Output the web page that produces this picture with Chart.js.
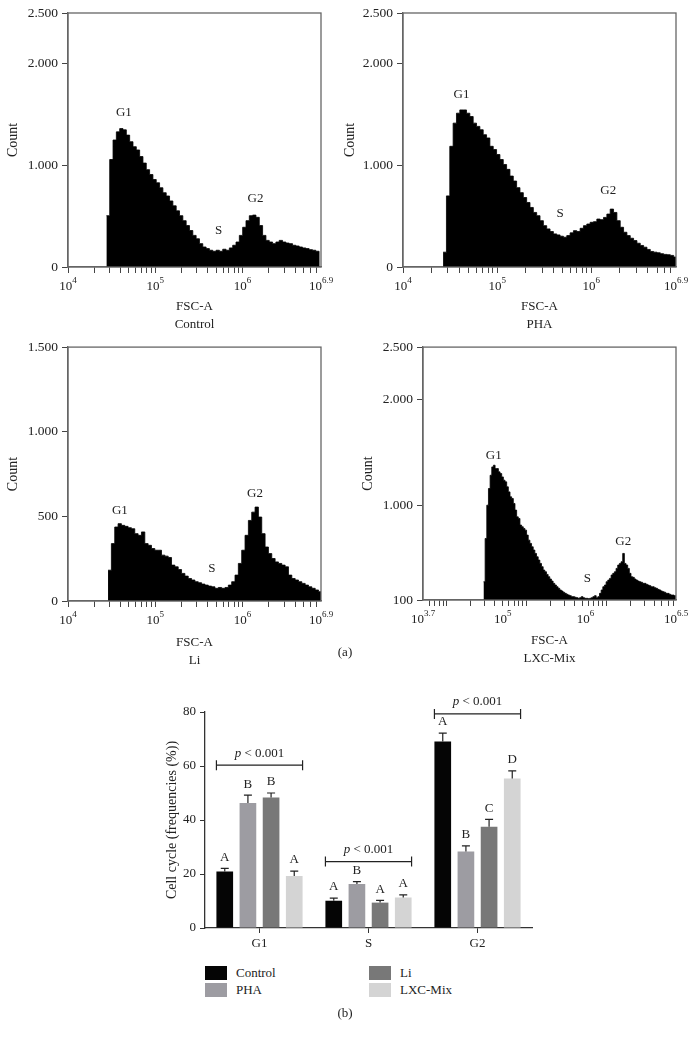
<!DOCTYPE html>
<html lang="en">
<head>
<meta charset="UTF-8" />
<title>Cell cycle - FSC-A histograms and frequencies</title>
<script src="https://cdn.jsdelivr.net/npm/chart.js"></script>
<style>
  body {
    margin: 0;
    background: #fff;
    width: 696px;
    height: 1041px;
    position: relative;
    overflow: hidden;
    font-family: "Liberation Serif", "Times New Roman", serif;
    color: #222;
  }
  canvas { position: absolute; }
  .tag {
    position: absolute;
    font-size: 13px;
    transform: translate(-50%, -50%);
    white-space: nowrap;
  }
  .key {
    position: absolute;
    font-size: 13px;
    line-height: 14px;
    white-space: nowrap;
  }
  .key span {
    display: inline-block;
    width: 22px;
    height: 14px;
    vertical-align: top;
    margin-right: 9px;
  }
</style>
</head>
<body>
<canvas id="hControl" width="340" height="340" style="left:0;top:0"></canvas>
<canvas id="hPha" width="361" height="340" style="left:335px;top:0"></canvas>
<canvas id="hLi" width="340" height="340" style="left:0;top:335px"></canvas>
<canvas id="hLxc" width="351" height="340" style="left:345px;top:335px"></canvas>
<div class="tag" style="left:345px;top:652px">(a)</div>
<canvas id="bars" width="420" height="272" style="left:140px;top:688px"></canvas>
<div id="legend"></div>
<div class="tag" style="left:345px;top:1013px">(b)</div>

<script>
  var SERIF = '"Liberation Serif", "Times New Roman", serif';

  // ---- histogram counts (one value per bin) ----
  var controlCounts = [505, 1058, 1250, 1330, 1362, 1350, 1298, 1233, 1184, 1152,
    1087, 1023, 958, 910, 861, 829, 780, 731, 699, 650,
    602, 553, 505, 456, 408, 359, 311, 278, 230, 197,
    181, 165, 155, 165, 155, 175, 165, 188, 214, 246,
    311, 391, 456, 505, 511, 489, 408, 311, 262, 246,
    230, 246, 262, 246, 236, 230, 214, 207, 197, 188,
    181, 171, 165, 155];
  var phaCounts = [146, 700, 1188, 1416, 1514, 1546, 1546, 1514, 1481, 1416,
    1384, 1351, 1302, 1270, 1188, 1156, 1107, 1058, 1009, 961,
    895, 846, 781, 732, 684, 635, 586, 537, 505, 456,
    407, 375, 349, 326, 316, 303, 293, 309, 336, 358,
    349, 381, 407, 423, 440, 446, 472, 466, 488, 521,
    570, 537, 456, 391, 342, 309, 283, 260, 234, 212,
    195, 173, 153, 146, 140, 131, 124, 121, 114, 98];
  var liCounts = [182, 339, 437, 457, 447, 441, 433, 427, 398, 388,
    408, 339, 329, 310, 300, 300, 271, 265, 257, 212,
    202, 186, 163, 147, 133, 124, 114, 108, 100, 94,
    88, 84, 75, 80, 75, 80, 94, 114, 153, 222,
    300, 388, 476, 525, 555, 496, 398, 319, 280, 251,
    231, 222, 212, 202, 153, 133, 124, 114, 104, 94,
    84, 75, 65, 55];
  var lxcCounts = [273, 684, 1000, 1158, 1284, 1363, 1379, 1347, 1347, 1316,
    1300, 1268, 1237, 1221, 1174, 1126, 1079, 1063, 1016, 953,
    889, 874, 811, 795, 779, 763, 716, 668, 637, 605,
    574, 542, 510, 479, 447, 416, 384, 368, 343, 321,
    299, 280, 258, 242, 226, 211, 195, 185, 173, 163,
    154, 147, 141, 132, 132, 126, 122, 116, 122, 132,
    122, 116, 116, 113, 116, 122, 132, 141, 122, 132,
    163, 195, 226, 242, 273, 289, 305, 337, 353, 368,
    400, 432, 447, 463, 542, 447, 432, 400, 353, 321,
    315, 299, 289, 280, 273, 268, 258, 258, 249, 242,
    236, 226, 226, 217, 211, 201, 195, 185, 179, 173,
    163, 163, 154, 147, 147, 141];

  // first bin edge (log10 FSC-A) and bin width
  var controlBins = [4.44, 0.0381];
  var phaBins = [4.426, 0.0355];
  var liBins = [4.459, 0.0383];
  var lxcBins = [4.459, 0.0208];

  // axis ticks
  var countTicks = [0, 1000, 2000, 2500];
  var liCountTicks = [0, 500, 1000, 1500];
  var lxcCountTicks = [100, 1000, 2000, 2500];
  var decadeAt = [4, 5, 6, 6.9];
  var decadeText = ['4', '5', '6', '6.9'];
  var lxcDecadeAt = [3.7, 4.7, 5.74, 6.875];
  var lxcDecadeText = ['3.7', '5', '6', '6.5'];

  // ---- bar chart (b) ----
  var phases = ['G1', 'S', 'G2'];
  var groups = ['Control', 'PHA', 'Li', 'LXC-Mix'];
  var controlFreq = [20.9, 10.1, 69.1];
  var phaFreq = [46.3, 16.3, 28.3];
  var liFreq = [48.3, 9.4, 37.5];
  var lxcFreq = [19.3, 11.3, 55.4];
  var controlErr = [1.2, 1.0, 3.1];
  var phaErr = [2.9, 0.9, 2.1];
  var liErr = [1.7, 0.8, 2.7];
  var lxcErr = [1.8, 1.0, 2.8];
  var controlLetters = ['A', 'A', 'A'];
  var phaLetters = ['B', 'B', 'B'];
  var liLetters = ['B', 'A', 'C'];
  var lxcLetters = ['A', 'A', 'D'];
  var bracketLevel = [60.3, 24.6, 79.3];
  var groupColors = ['#050505', '#9d9ca2', '#787878', '#d4d4d4'];

  Chart.defaults.font.family = SERIF;
  Chart.defaults.color = '#222';
  Chart.defaults.animation = false;

  function logTicks(min, max) {
    var t = [];
    for (var n = 3; n <= 7; n++) {
      for (var k = 1; k <= 9; k++) {
        var v = n + Math.log10(k);
        if (v >= min - 1e-6 && v <= max + 1e-6) t.push(v);
      }
    }
    return t;
  }

  function thousands(v) {
    return v >= 1000 ? (v / 1000).toFixed(3) : String(v);
  }

  function drawPow(ctx, x, y, exp) {
    ctx.font = '13px ' + SERIF;
    var w1 = ctx.measureText('10').width;
    ctx.font = '9px ' + SERIF;
    var w2 = ctx.measureText(exp).width;
    var x0 = x - (w1 + w2) / 2;
    ctx.textAlign = 'left';
    ctx.textBaseline = 'middle';
    ctx.fillStyle = '#222';
    ctx.font = '13px ' + SERIF;
    ctx.fillText('10', x0, y);
    ctx.font = '9px ' + SERIF;
    ctx.fillText(exp, x0 + w1, y - 6);
  }

  function histogram(id, p) {
    var pts = p.counts.map(function (c, i) {
      return { x: p.bins[0] + i * p.bins[1], y: c };
    });
    pts.push({ x: p.bins[0] + p.counts.length * p.bins[1], y: p.yMin });

    var decor = {
      id: 'decor',
      afterDraw: function (chart) {
        var ctx = chart.ctx, a = chart.chartArea;
        var sx = chart.scales.x, sy = chart.scales.y;
        ctx.save();
        ctx.strokeStyle = '#666';
        ctx.lineWidth = 1.3;
        ctx.strokeRect(a.left, a.top, a.right - a.left, a.bottom - a.top);
        p.labelAt.forEach(function (v, i) {
          drawPow(ctx, sx.getPixelForValue(v), a.bottom + 20, p.labelText[i]);
        });
        ctx.font = '13px ' + SERIF;
        ctx.textAlign = 'center';
        ctx.textBaseline = 'middle';
        ctx.fillStyle = '#222';
        p.marks.forEach(function (m) {
          ctx.fillText(m[0], sx.getPixelForValue(m[1]), sy.getPixelForValue(m[2]));
        });
        ctx.restore();
      }
    };

    return new Chart(document.getElementById(id), {
      type: 'line',
      data: {
        datasets: [{
          data: pts,
          stepped: 'before',
          fill: 'start',
          backgroundColor: '#000',
          borderColor: '#000',
          borderWidth: 0.8,
          pointRadius: 0
        }]
      },
      options: {
        responsive: false,
        layout: { padding: { top: p.pad[0], right: p.pad[1], left: 0, bottom: 0 } },
        plugins: { legend: { display: false }, tooltip: { enabled: false } },
        scales: {
          x: {
            type: 'linear',
            min: p.xMin,
            max: p.xMax,
            afterBuildTicks: function (s) {
              s.ticks = logTicks(p.xMin, p.xMax).map(function (v) { return { value: v }; });
            },
            afterFit: function (s) { s.height = p.xH; },
            ticks: { autoSkip: false, maxRotation: 0, callback: function () { return ''; } },
            grid: { drawOnChartArea: false, tickLength: 6, color: '#444' },
            border: { color: '#666', width: 1.3 },
            title: {
              display: true,
              text: ['FSC-A', p.name],
              font: { size: 13, lineHeight: 1.45 },
              padding: { top: 0, bottom: p.titlePad[1] }
            }
          },
          y: {
            min: p.yMin,
            max: p.yMax,
            afterBuildTicks: function (s) {
              s.ticks = p.yTicks.map(function (v) { return { value: v }; });
            },
            afterFit: function (s) { s.width = p.yW; },
            ticks: { font: { size: 13.5 }, padding: 4, callback: thousands },
            grid: { drawOnChartArea: false, tickLength: 6, color: '#444' },
            border: { color: '#666', width: 1.3 },
            title: {
              display: true,
              text: 'Count',
              font: { size: 14 },
              padding: { top: p.titlePad[0], bottom: 0 }
            }
          }
        }
      },
      plugins: [decor]
    });
  }

  histogram('hControl', {
    name: 'Control', counts: controlCounts, bins: controlBins,
    xMin: 4, xMax: 6.9, yMin: 0, yMax: 2500, yTicks: countTicks,
    labelAt: decadeAt, labelText: decadeText,
    marks: [['G1', 4.64, 1524], ['S', 5.726, 359], ['G2', 6.149, 670]],
    pad: [13, 19], yW: 68, xH: 73, titlePad: [4.6, 5.5]
  });
  histogram('hPha', {
    name: 'PHA', counts: phaCounts, bins: phaBins,
    xMin: 4, xMax: 6.9, yMin: 0, yMax: 2500, yTicks: countTicks,
    labelAt: decadeAt, labelText: decadeText,
    marks: [['G1', 4.622, 1693], ['S', 5.669, 524], ['G2', 6.18, 749]],
    pad: [13, 20], yW: 68, xH: 73, titlePad: [6.6, 5.5]
  });
  histogram('hLi', {
    name: 'Li', counts: liCounts, bins: liBins,
    xMin: 4, xMax: 6.9, yMin: 0, yMax: 1500, yTicks: liCountTicks,
    labelAt: decadeAt, labelText: decadeText,
    marks: [['G1', 4.594, 535], ['S', 5.65, 194], ['G2', 6.144, 635]],
    pad: [12, 19], yW: 68, xH: 74, titlePad: [4.6, 4.5]
  });
  histogram('hLxc', {
    name: 'LXC-Mix', counts: lxcCounts, bins: lxcBins,
    xMin: 3.7, xMax: 6.875, yMin: 100, yMax: 2500, yTicks: lxcCountTicks,
    labelAt: lxcDecadeAt, labelText: lxcDecadeText,
    marks: [['G1', 4.5875, 1474], ['S', 5.7625, 308], ['G2', 6.2125, 650]],
    pad: [12, 20], yW: 78, xH: 75, titlePad: [14.6, 6.5]
  });

  // ---- (b) grouped bars ----
  var freqs = [controlFreq, phaFreq, liFreq, lxcFreq];
  var errs = [controlErr, phaErr, liErr, lxcErr];
  var letters = [controlLetters, phaLetters, liLetters, lxcLetters];

  var barDecor = {
    id: 'barDecor',
    afterDatasetsDraw: function (chart) {
      var ctx = chart.ctx, sy = chart.scales.y;
      ctx.save();
      ctx.strokeStyle = '#222';
      ctx.fillStyle = '#222';
      ctx.lineWidth = 1.2;
      ctx.font = '13px ' + SERIF;
      ctx.textAlign = 'center';
      ctx.textBaseline = 'middle';
      freqs.forEach(function (vals, i) {
        var meta = chart.getDatasetMeta(i);
        meta.data.forEach(function (bar, j) {
          var top = sy.getPixelForValue(vals[j] + errs[i][j]);
          ctx.beginPath();
          ctx.moveTo(bar.x, bar.y);
          ctx.lineTo(bar.x, top);
          ctx.moveTo(bar.x - 4, top);
          ctx.lineTo(bar.x + 4, top);
          ctx.stroke();
          ctx.fillText(letters[i][j], bar.x, top - 11);
        });
      });
      // significance brackets over each phase
      var first = chart.getDatasetMeta(0), last = chart.getDatasetMeta(3);
      phases.forEach(function (ph, j) {
        var b0 = first.data[j], b3 = last.data[j];
        var l = b0.x - b0.width / 2, r = b3.x + b3.width / 2;
        var y = sy.getPixelForValue(bracketLevel[j]);
        ctx.beginPath();
        ctx.moveTo(l, y); ctx.lineTo(r, y);
        ctx.moveTo(l, y - 5); ctx.lineTo(l, y + 5);
        ctx.moveTo(r, y - 5); ctx.lineTo(r, y + 5);
        ctx.stroke();
        var cx = (l + r) / 2, ty = y - 12;
        ctx.font = 'italic 13px ' + SERIF;
        var wp = ctx.measureText('p').width;
        ctx.font = '13px ' + SERIF;
        var rest = ' < 0.001';
        var wr = ctx.measureText(rest).width;
        var x0 = cx - (wp + wr) / 2;
        ctx.textAlign = 'left';
        ctx.font = 'italic 13px ' + SERIF;
        ctx.fillText('p', x0, ty);
        ctx.font = '13px ' + SERIF;
        ctx.fillText(rest, x0 + wp, ty);
        ctx.textAlign = 'center';
      });
      ctx.restore();
    }
  };

  var barChart = new Chart(document.getElementById('bars'), {
    type: 'bar',
    data: {
      labels: phases,
      datasets: groups.map(function (g, i) {
        return {
          label: g,
          data: freqs[i],
          backgroundColor: groupColors[i],
          barPercentage: 0.72,
          categoryPercentage: 0.85
        };
      })
    },
    options: {
      responsive: false,
      layout: { padding: { top: 24, right: 28, left: 0, bottom: 0 } },
      plugins: { legend: { display: false }, tooltip: { enabled: false } },
      scales: {
        x: {
          afterFit: function (s) { s.height = 32; },
          ticks: { font: { size: 13 }, padding: 3 },
          grid: { drawOnChartArea: false, offset: false, tickLength: 5, color: '#333' },
          border: { color: '#333', width: 1.3 }
        },
        y: {
          min: 0,
          max: 80,
          ticks: { stepSize: 20, font: { size: 13 }, padding: 4 },
          afterFit: function (s) { s.width = 65; },
          grid: { drawOnChartArea: false, tickLength: 5, color: '#333' },
          border: { color: '#333', width: 1.3 },
          title: {
            display: true,
            text: 'Cell cycle (frequencies (%))',
            font: { size: 14 },
            padding: { top: 23.6, bottom: 0 }
          }
        }
      }
    },
    plugins: [barDecor]
  });

  // legend in two columns, built from the datasets
  var legendPos = [[205, 966], [205, 983], [369, 966], [369, 983]];
  var legendOrder = [0, 1, 2, 3];
  var legendBox = document.getElementById('legend');
  legendOrder.forEach(function (i, k) {
    var ds = barChart.data.datasets[i];
    var item = document.createElement('div');
    item.className = 'key';
    item.style.left = legendPos[k][0] + 'px';
    item.style.top = legendPos[k][1] + 'px';
    item.innerHTML = '<span style="background:' + ds.backgroundColor + '"></span>' + ds.label;
    legendBox.appendChild(item);
  });
</script>
</body>
</html>
